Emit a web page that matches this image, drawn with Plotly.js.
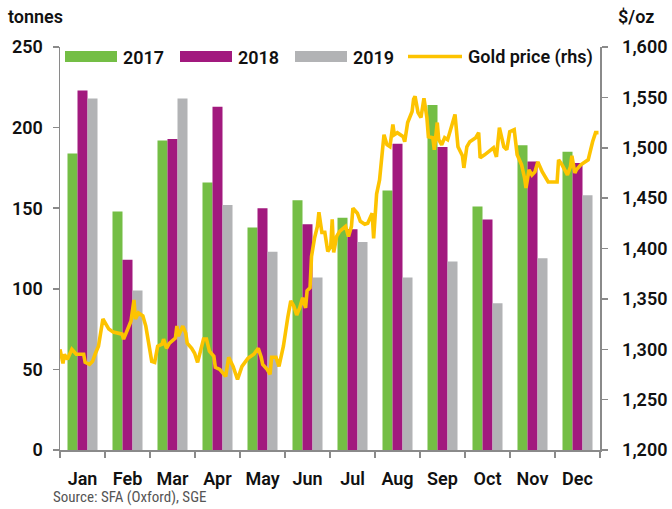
<!DOCTYPE html>
<html>
<head>
<meta charset="utf-8">
<script src="https://cdn.plot.ly/plotly-3.0.1.min.js"></script>
<style>html,body{margin:0;padding:0;background:#fff;}#chart{width:672px;height:509px;}</style>
</head>
<body>
<div id="chart"></div>
<script>
const months = ["Jan","Feb","Mar","Apr","May","Jun","Jul","Aug","Sep","Oct","Nov","Dec"];
const series2017 = [184, 148, 192, 166, 138, 155, 144, 161, 214, 151, 189, 185];
const series2018 = [223, 118, 193, 213, 150, 140, 137, 190, 188, 143, 179, 178];
const series2019 = [218, 99, 218, 152, 123, 107, 129, 107, 117, 91, 119, 158];
const seriesNames = ["2017", "2018", "2019", "Gold price (rhs)"];

const goldDates = [
"2019-01-01","2019-01-03","2019-01-04","2019-01-06","2019-01-09","2019-01-12","2019-01-17","2019-01-18","2019-01-21","2019-01-23","2019-01-25","2019-01-27","2019-01-30",
"2019-02-03","2019-02-06","2019-02-09","2019-02-12","2019-02-13","2019-02-16","2019-02-18","2019-02-20","2019-02-21","2019-02-23","2019-02-26","2019-02-28",
"2019-03-02","2019-03-04","2019-03-06","2019-03-08","2019-03-11","2019-03-12","2019-03-14","2019-03-16","2019-03-20","2019-03-21","2019-03-22","2019-03-25","2019-03-27","2019-03-28","2019-03-31",
"2019-04-02","2019-04-04","2019-04-06","2019-04-08","2019-04-10","2019-04-12","2019-04-15","2019-04-16","2019-04-19","2019-04-23","2019-04-25","2019-04-28",
"2019-05-01","2019-05-04","2019-05-06","2019-05-08","2019-05-12","2019-05-15","2019-05-17","2019-05-18","2019-05-21","2019-05-23","2019-05-24","2019-05-27","2019-05-29",
"2019-06-01","2019-06-04","2019-06-06","2019-06-08","2019-06-10","2019-06-12","2019-06-14","2019-06-16","2019-06-17","2019-06-19","2019-06-20","2019-06-22","2019-06-24","2019-06-25","2019-06-27","2019-06-29",
"2019-07-01","2019-07-03","2019-07-04","2019-07-05","2019-07-07","2019-07-09","2019-07-13","2019-07-15","2019-07-17","2019-07-18","2019-07-21","2019-07-23","2019-07-26","2019-07-28","2019-07-31",
"2019-08-01","2019-08-03","2019-08-05","2019-08-07","2019-08-08","2019-08-10","2019-08-12","2019-08-14","2019-08-15","2019-08-17","2019-08-21","2019-08-22","2019-08-24","2019-08-27","2019-08-28","2019-08-29","2019-08-31",
"2019-09-02","2019-09-04","2019-09-06","2019-09-07","2019-09-10","2019-09-11","2019-09-13","2019-09-14","2019-09-16","2019-09-18","2019-09-20","2019-09-23","2019-09-25","2019-09-27","2019-09-30",
"2019-10-01","2019-10-03","2019-10-05","2019-10-09","2019-10-11","2019-10-12","2019-10-15","2019-10-19","2019-10-21","2019-10-23","2019-10-25","2019-10-28","2019-10-30",
"2019-11-01","2019-11-04","2019-11-06","2019-11-09","2019-11-11","2019-11-12","2019-11-14","2019-11-16","2019-11-18","2019-11-20","2019-11-23","2019-11-25","2019-11-27",
"2019-12-03","2019-12-04","2019-12-06","2019-12-08","2019-12-10","2019-12-12","2019-12-13","2019-12-15","2019-12-16","2019-12-19","2019-12-21","2019-12-24","2019-12-27","2019-12-29","2019-12-31"
];
const goldPrice = [
1300,1286,1295,1290,1300,1295,1295,1287,1285,1288,1296,1303,1330,
1320,1317,1316,1315,1310,1320,1328,1349,1330,1336,1333,1323,
1306,1288,1287,1303,1305,1310,1301,1306,1311,1323,1313,1323,1316,1306,1301,
1296,1287,1300,1310,1310,1298,1293,1282,1280,1273,1292,1283,
1270,1283,1287,1291,1295,1301,1292,1285,1280,1275,1292,1292,1283,
1303,1332,1348,1343,1334,1341,1351,1341,1358,1361,1392,1410,1422,1436,1416,1416,
1397,1402,1429,1396,1412,1417,1422,1412,1422,1440,1435,1427,1424,1425,1435,
1410,1454,1468,1501,1513,1503,1501,1523,1513,1515,1511,1506,1525,1536,1548,1551,1535,
1530,1549,1530,1511,1510,1498,1525,1508,1503,1510,1508,1523,1533,1501,1492,
1480,1501,1506,1510,1515,1490,1493,1498,1500,1491,1520,1501,1498,
1516,1518,1493,1483,1470,1460,1478,1473,1476,1486,1476,1470,1466,
1466,1488,1484,1478,1473,1481,1492,1475,1478,1483,1485,1488,1506,1515,1515
];

const colors = ["#74BE45", "#A2197E", "#B2B3B5", "#FDC300"];
const FONT = "Roboto, 'Noto Sans', sans-serif";
const NARROW = "'Liberation Sans Narrow', 'Roboto Condensed', Roboto, sans-serif";

// plot area geometry in pixels: x 60..600, y 47..450
const L = 60, R = 600, T = 47, B = 450;
const px = x => (x - L) / (R - L);
const py = y => (B - y) / (B - T);

const traces = [
  {type: "bar", x: months, y: series2017, name: seriesNames[0], marker: {color: colors[0]}},
  {type: "bar", x: months, y: series2018, name: seriesNames[1], marker: {color: colors[1]}},
  {type: "bar", x: months, y: series2019, name: seriesNames[2], marker: {color: colors[2]}},
  {type: "scatter", mode: "lines", x: goldDates, y: goldPrice, name: seriesNames[3],
   xaxis: "x2", yaxis: "y2", line: {color: colors[3], width: 3.6}}
];

const axisColor = "#8a8a8a";
const textFont = {family: FONT, size: 18, color: "#111", weight: 600};
const tickFont = {family: FONT, size: 18, color: "#111", weight: 600};

const shapes = [
  {type: "rect", xref: "paper", yref: "paper", x0: px(65), x1: px(117), y0: py(62), y1: py(51), fillcolor: colors[0], line: {width: 0}},
  {type: "rect", xref: "paper", yref: "paper", x0: px(180), x1: px(232), y0: py(62), y1: py(51), fillcolor: colors[1], line: {width: 0}},
  {type: "rect", xref: "paper", yref: "paper", x0: px(295), x1: px(347), y0: py(62), y1: py(51), fillcolor: colors[2], line: {width: 0}},
  {type: "line", xref: "paper", yref: "paper", x0: px(408), x1: px(462), y0: py(56.5), y1: py(56.5), line: {color: colors[3], width: 3.6}}
];

const legendText = (label, x) => ({xref: "paper", yref: "paper", x: px(x), y: py(57), xanchor: "left", yanchor: "middle",
  text: label, showarrow: false, font: textFont});

const annotations = [
  legendText(seriesNames[0], 121),
  legendText(seriesNames[1], 236),
  legendText(seriesNames[2], 351),
  legendText(seriesNames[3], 466),
  {xref: "paper", yref: "paper", x: px(6), y: py(16), xanchor: "left", yanchor: "middle", text: "tonnes", showarrow: false, font: textFont},
  {xref: "paper", yref: "paper", x: px(616), y: py(17), xanchor: "left", yanchor: "middle", text: "$/oz", showarrow: false, font: textFont},
  {xref: "paper", yref: "paper", x: px(51), y: py(497), xanchor: "left", yanchor: "middle", text: "Source: SFA (Oxford), SGE", showarrow: false,
   font: {family: NARROW, size: 15, color: "#555"}}
];

const layout = {
  width: 672, height: 509,
  margin: {l: 60, r: 72, t: 47, b: 59, pad: 0},
  paper_bgcolor: "#fff", plot_bgcolor: "#fff",
  showlegend: false,
  barmode: "group", bargap: 0.333, bargroupgap: 0,
  font: {family: FONT, color: "#111"},
  xaxis: {type: "category", showgrid: false, zeroline: false, showline: true, linecolor: axisColor, linewidth: 1.5,
    ticks: "outside", tickson: "boundaries", ticklen: 6, tickwidth: 1.5, tickcolor: axisColor,
    tickfont: tickFont, ticklabelstandoff: 12},
  xaxis2: {type: "date", overlaying: "x", range: ["2019-01-01", "2020-01-01"], visible: false, showgrid: false},
  yaxis: {range: [0, 250], dtick: 50, tick0: 0, showgrid: false, zeroline: false, showline: true, linecolor: axisColor, linewidth: 1.5,
    ticks: "outside", ticklen: 6, tickwidth: 1.5, tickcolor: axisColor, tickfont: tickFont, ticklabelstandoff: 6},
  yaxis2: {range: [1200, 1600], dtick: 50, tick0: 1200, overlaying: "y", side: "right", showgrid: false, zeroline: false,
    showline: true, linecolor: axisColor, linewidth: 1.5, ticks: "outside", ticklen: 6, tickwidth: 1.5, tickcolor: axisColor,
    tickformat: ",d", tickfont: tickFont, ticklabelstandoff: 11},
  shapes: shapes,
  annotations: annotations
};

Plotly.newPlot("chart", traces, layout, {displayModeBar: false, staticPlot: true});
</script>
</body>
</html>
